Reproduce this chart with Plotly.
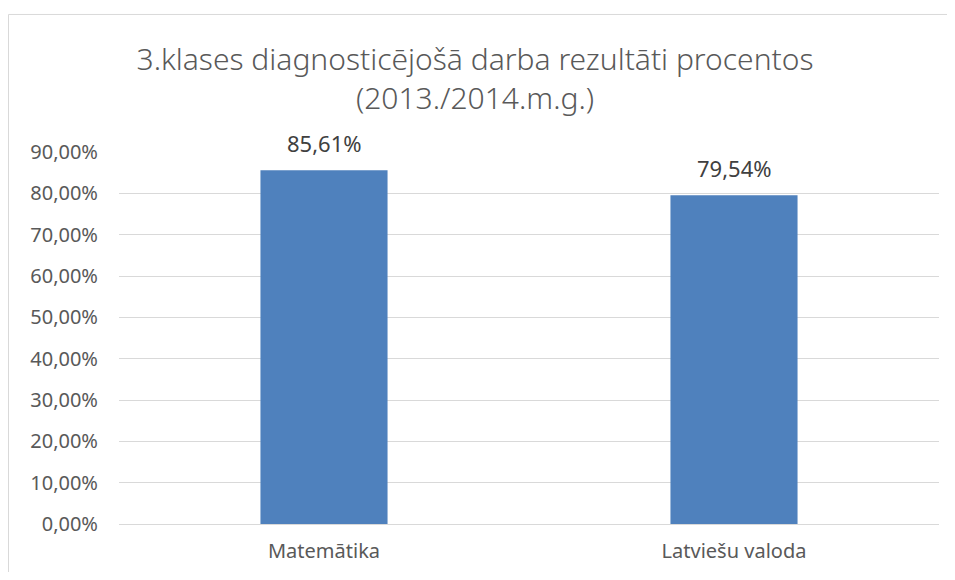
import plotly.graph_objects as go

categories = ["Matemātika", "Latviešu valoda"]
values = [0.8561, 0.7954]
title_text = "3.klases diagnosticējošā darba rezultāti procentos<br>(2013./2014.m.g.)"

FONT = "Noto Sans"
W, H = 939, 564
L, R, T, B = 111, 8, 144, 44
PW, PH = W - L - R, H - T - B

fig = go.Figure(
    go.Bar(
        x=categories,
        y=values,
        marker=dict(color="#4F81BD", line=dict(width=0)),
        width=0.31,
        hoverinfo="x+y",
    )
)

annotations = [
    dict(
        x=c,
        y=v,
        xref="x",
        yref="y",
        text=f"{v * 100:.2f}%".replace(".", ","),
        showarrow=False,
        yanchor="bottom",
        yshift=10,
        font=dict(family=FONT, size=22, color="#404040"),
    )
    for c, v in zip(categories, values)
]

bx0 = (0.5 - L) / PW
by1 = (T + PH - 5) / PH

fig.update_layout(
    width=W,
    height=H,
    margin=dict(l=L, r=R, t=T, b=B),
    paper_bgcolor="white",
    plot_bgcolor="white",
    separators=", ",
    showlegend=False,
    title=dict(
        text=title_text,
        x=(475 - 8) / W,
        xref="container",
        xanchor="center",
        y=1 - 62 / H,
        yref="container",
        yanchor="middle",
        font=dict(family=FONT, size=30, color="#595959", weight=300),
    ),
    font=dict(family=FONT, color="#595959"),
    yaxis=dict(
        range=[0, 0.9],
        dtick=0.1,
        tickformat=".2%",
        showgrid=True,
        gridcolor="#D9D9D9",
        gridwidth=1,
        zeroline=True,
        zerolinecolor="#D9D9D9",
        zerolinewidth=1,
        tickfont=dict(family=FONT, size=20, color="#595959"),
        ticklabelstandoff=20,
        fixedrange=True,
    ),
    xaxis=dict(
        showgrid=False,
        showline=False,
        tickfont=dict(family=FONT, size=20, color="#595959"),
        ticklabelstandoff=13,
    ),
    annotations=annotations,
    shapes=[
        dict(type="line", xref="paper", yref="paper",
             x0=bx0, x1=1.2, y0=by1, y1=by1,
             line=dict(color="#D9D9D9", width=1), layer="below"),
        dict(type="line", xref="paper", yref="paper",
             x0=bx0, x1=bx0, y0=by1, y1=-0.3,
             line=dict(color="#D9D9D9", width=1), layer="below"),
    ],
)

fig.write_html("out.html")
